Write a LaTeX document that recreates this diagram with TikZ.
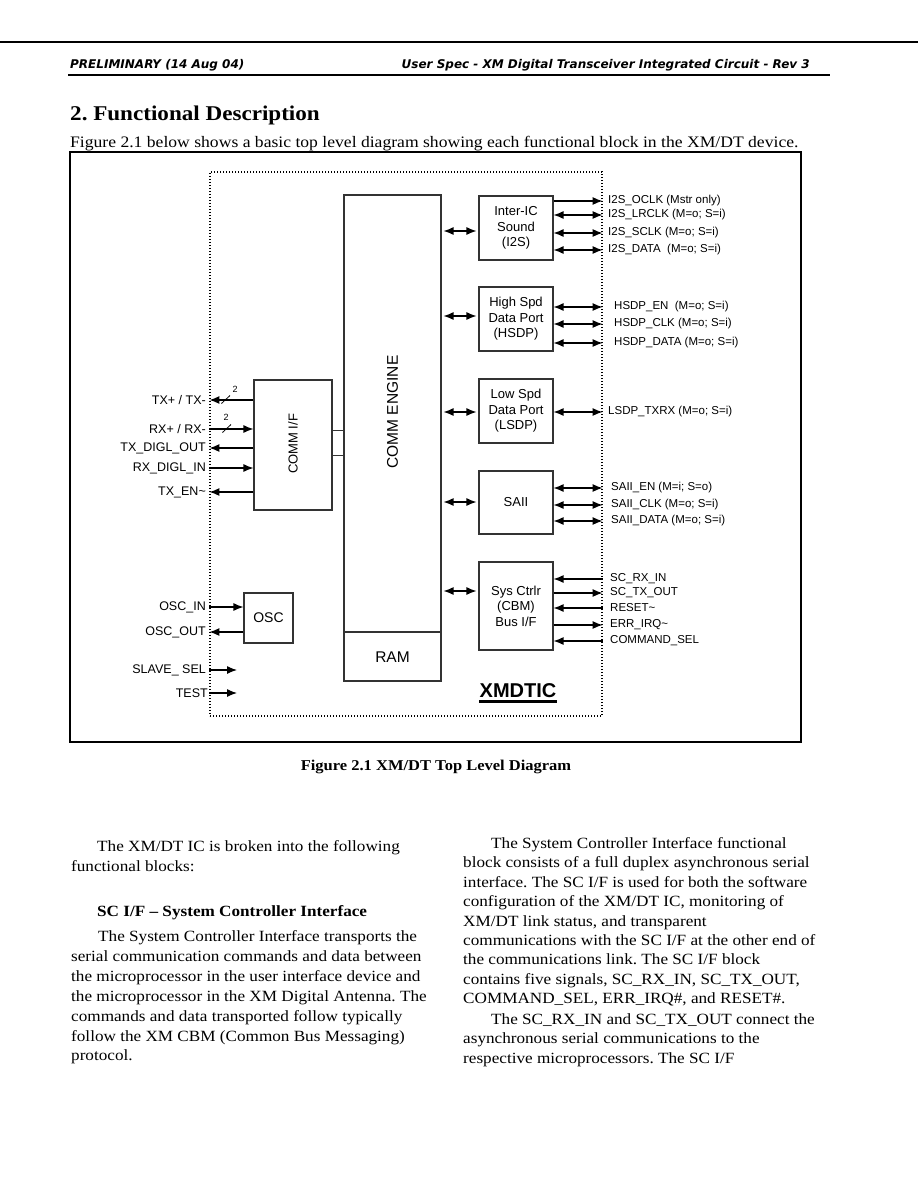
\documentclass[tikz,border=0pt]{standalone}
\usepackage{fontspec}
\setmainfont{Liberation Serif}[FakeStretch=1.1]
\newfontfamily\diagfont{Liberation Sans}
\newfontfamily\headfont{DejaVu Sans}
\usepackage{tikz}
\usetikzlibrary{
  arrows.meta,
  positioning,
  calc
}
\frenchspacing
\tikzset{
  block/.style={
    draw=black!80,
    line width=1.1pt,
    inner sep=0pt,
    align=center,
    font=\diagfont\fontsize{13}{15.5}\selectfont
  },
  chipbox/.style={
    draw,
    line width=1.2pt,
    dash pattern=on 1.2pt off 1.8pt,
    inner sep=0pt,
    minimum width=392pt,
    minimum height=544pt
  },
  headtext/.style={
    inner sep=0pt,
    font=\headfont\bfseries\itshape\fontsize{12}{14}\selectfont
  },
  bodytext/.style={
    anchor=base west,
    inner sep=0pt,
    font=\fontsize{15.6}{19}\selectfont
  },
  pinlabel/.style={
    inner sep=0pt,
    anchor=west,
    font=\diagfont\fontsize{11.5}{13}\selectfont
  },
  leftlabel/.style={
    inner sep=0pt,
    anchor=east,
    font=\diagfont\fontsize{12.5}{14}\selectfont
  },
  busmark/.style={
    inner sep=0pt,
    font=\diagfont\fontsize{9}{10}\selectfont
  },
  sigout/.style={
    -{Latex[length=10pt,width=8pt]},
    line width=1.2pt
  },
  sigin/.style={
    {Latex[length=10pt,width=8pt]}-,
    line width=1.2pt
  },
  sigboth/.style={
    {Latex[length=10pt,width=8pt]}-{Latex[length=10pt,width=8pt]},
    line width=1.2pt
  }
}

\begin{document}
\begin{tikzpicture}[x=1pt,y=-1pt]

  \useasboundingbox (0,0) rectangle (918,1188);

  % page head
  \draw[line width=1.2pt] (0,42) -- (918,42);
  \node[headtext, anchor=base west] (prelim) at (70,69) {PRELIMINARY (14 Aug 04)};
  \node[headtext, anchor=base east] (spec) at (810,69) {User Spec - XM Digital Transceiver Integrated Circuit - Rev 3};
  \draw[line width=1.8pt] (68,75) -- (830,75);

  \node[
    anchor=base west,
    inner sep=0pt,
    font=\bfseries\fontsize{21}{24}\selectfont
  ] (title) at (70,121) {2. Functional Description};

  \node[
    bodytext,
    font=\fontsize{16}{19}\selectfont
  ] (intro) at (70,147) {Figure 2.1 below shows a basic top level diagram showing each functional block in the XM/DT device.};

  % figure frame and chip outline
  \node[
    draw,
    line width=1.4pt,
    inner sep=0pt,
    minimum width=731pt,
    minimum height=590pt
  ] (frame) at (435.5,447) {};

  \node[chipbox] (chip) at (406,444) {};

  % core blocks
  \node[block, minimum width=97pt, minimum height=486pt] (engine) at (392.5,438) {};
  \draw[black!80, line width=1.1pt] (engine.west |- 0,632) -- (engine.east |- 0,632);
  \node[font=\diagfont\fontsize{15.5}{17}\selectfont, rotate=90] (enginetext) at (392.5,412) {COMM ENGINE};
  \node[font=\diagfont\fontsize{15.5}{17}\selectfont] (ramtext) at (392.5,657) {RAM};

  \node[block, minimum width=78pt, minimum height=130pt] (commif) at (293,445) {};
  \node[font=\diagfont\fontsize{13}{15}\selectfont, rotate=90] (commiftext) at (293,444) {COMM I/F};
  \draw[black!80, line width=1.1pt] ($(commif.east)+(0,-14.5)$) -- ($(engine.west |- commif.east)+(0,-14.5)$);
  \draw[black!80, line width=1.1pt] ($(commif.east)+(0,10.5)$) -- ($(engine.west |- commif.east)+(0,10.5)$);

  \node[block, minimum width=49pt, minimum height=50pt, font=\diagfont\fontsize{14}{16}\selectfont] (osc) at (268.5,618) {OSC};

  \node[block, minimum width=74pt, minimum height=64pt] (i2s) at (516,228) {Inter-IC\\Sound\\(I2S)};
  \node[block, minimum width=74pt, minimum height=64pt] (hsdp) at (516,319) {High Spd\\Data Port\\(HSDP)};
  \node[block, minimum width=74pt, minimum height=64pt] (lsdp) at (516,411) {Low Spd\\Data Port\\(LSDP)};
  \node[block, minimum width=74pt, minimum height=63pt] (saii) at (516,502.5) {SAII};
  \node[block, minimum width=74pt, minimum height=88pt] (sysctl) at (516,606) {Sys Ctrlr\\(CBM)\\Bus I/F};

  % engine links
  \foreach \blk/\y in {i2s/231, hsdp/316, lsdp/412, saii/502, sysctl/591} {
    \draw[sigboth, shorten <=2pt, shorten >=2pt]
    (engine.east |- 0,\y) --
    (\blk.west |- 0,\y);
  }

  % right hand pins
  \foreach \blk/\y/\sty/\gap/\txt [count=\n] in {
    i2s/201/sigout/5/{I2S\_OCLK (Mstr only)},
    i2s/215/sigboth/5/{I2S\_LRCLK (M=o; S=i)},
    i2s/233/sigboth/5/{I2S\_SCLK (M=o; S=i)},
    i2s/250/sigboth/5/{I2S\_DATA\ \ (M=o; S=i)},
    hsdp/307/sigboth/11/{HSDP\_EN\ \ (M=o; S=i)},
    hsdp/324/sigboth/11/{HSDP\_CLK (M=o; S=i)},
    hsdp/343/sigboth/11/{HSDP\_DATA (M=o; S=i)},
    lsdp/412/sigboth/5/{LSDP\_TXRX (M=o; S=i)},
    saii/488/sigboth/8/{SAII\_EN (M=i; S=o)},
    saii/505/sigboth/8/{SAII\_CLK (M=o; S=i)},
    saii/521/sigboth/8/{SAII\_DATA (M=o; S=i)},
    sysctl/579/sigin/7/{SC\_RX\_IN},
    sysctl/593/sigout/7/{SC\_TX\_OUT},
    sysctl/608/sigin/7/{RESET\textasciitilde},
    sysctl/625/sigout/7/{ERR\_IRQ\textasciitilde},
    sysctl/641/sigin/7/{COMMAND\_SEL}
  } {
    \draw[\sty]
    (\blk.east |- 0,\y) --
    (chip.east |- 0,\y)
    node[pinlabel, xshift=\gap pt] (rpin\n) {\txt};
  }

  % left hand pins
  \foreach \blk/\y/\sty/\txt [count=\n] in {
    commif/400/sigout/{TX+ / TX-},
    commif/429/sigin/{RX+ / RX-},
    commif/448/sigout/{TX\_DIGL\_OUT},
    commif/468/sigin/{RX\_DIGL\_IN},
    commif/492/sigout/{TX\_EN\textasciitilde},
    osc/607/sigin/{OSC\_IN},
    osc/632/sigout/{OSC\_OUT}
  } {
    \draw[\sty]
    (\blk.west |- 0,\y) --
    (chip.west |- 0,\y)
    node[leftlabel, xshift=-3pt] (lpin\n) {\txt};
  }

  \coordinate (selend) at (237,670);
  \coordinate (testend) at (237,693);
  \draw[sigin] (selend) -- (chip.west |- selend)
    node[leftlabel, xshift=-3pt] (slavesel) {SLAVE\_ SEL};
  \draw[sigin] (testend) -- (chip.west |- testend)
    node[leftlabel, xshift=-1pt] (testpin) {TEST};

  % bus width marks
  \draw[line width=0.8pt] (221.5,403.5) -- (230,395.5);
  \node[busmark] (txwidth) at (235,389) {2};
  \draw[line width=0.8pt] (222.5,432.5) -- (231,424.5);
  \node[busmark] (rxwidth) at (226,417) {2};

  % chip name
  \node[
    anchor=base,
    inner sep=0pt,
    font=\diagfont\bfseries\fontsize{20}{22}\selectfont
  ] (xmdtic) at (518,697) {XMDTIC};
  \draw[line width=2.2pt] ($(xmdtic.base west)+(0,4.5)$) -- ($(xmdtic.base east)+(0,4.5)$);

  \node[
    anchor=base,
    inner sep=0pt,
    font=\bfseries\fontsize{15}{18}\selectfont
  ] (caption) at (436,770) {Figure 2.1 XM/DT Top Level Diagram};

  % left column
  \node[bodytext] (lpar1) at (97,851.5) {The XM/DT IC is broken into the following};
  \node[bodytext] (lpar2) at (71,871.5) {functional blocks:};
  \node[
    bodytext,
    font=\bfseries\fontsize{15.6}{19}\selectfont
  ] (schead) at (97,916.5) {SC I/F \textendash\ System Controller Interface};
  \node[bodytext] (lcol0) at (98,941.5) {The System Controller Interface transports the};
  \foreach \txt [count=\n] in {
    {serial communication commands and data between},
    {the microprocessor in the user interface device and},
    {the microprocessor in the XM Digital Antenna. The},
    {commands and data transported follow typically},
    {follow the XM CBM (Common Bus Messaging)},
    {protocol.}
  } {
    \node[bodytext] (lcol\n) at (71,{941.5+19.9*\n}) {\txt};
  }

  % right column
  \node[bodytext] (rcol0) at (491,848.5) {The System Controller Interface functional};
  \foreach \txt [count=\n] in {
    {block consists of a full duplex asynchronous serial},
    {interface. The SC I/F is used for both the software},
    {configuration of the XM/DT IC, monitoring of},
    {XM/DT link status, and transparent},
    {communications with the SC I/F at the other end of},
    {the communications link. The SC I/F block},
    {contains five signals, SC\_RX\_IN, SC\_TX\_OUT,},
    {COMMAND\_SEL, ERR\_IRQ\#, and RESET\#.}
  } {
    \node[bodytext] (rcol\n) at (463,{848.5+19.4*\n}) {\txt};
  }
  \node[bodytext] (rpar0) at (491,1024.5) {The SC\_RX\_IN and SC\_TX\_OUT connect the};
  \node[bodytext] (rpar1) at (463,1043.9) {asynchronous serial communications to the};
  \node[bodytext] (rpar2) at (463,1063.3) {respective microprocessors. The SC I/F};

\end{tikzpicture}
\end{document}
